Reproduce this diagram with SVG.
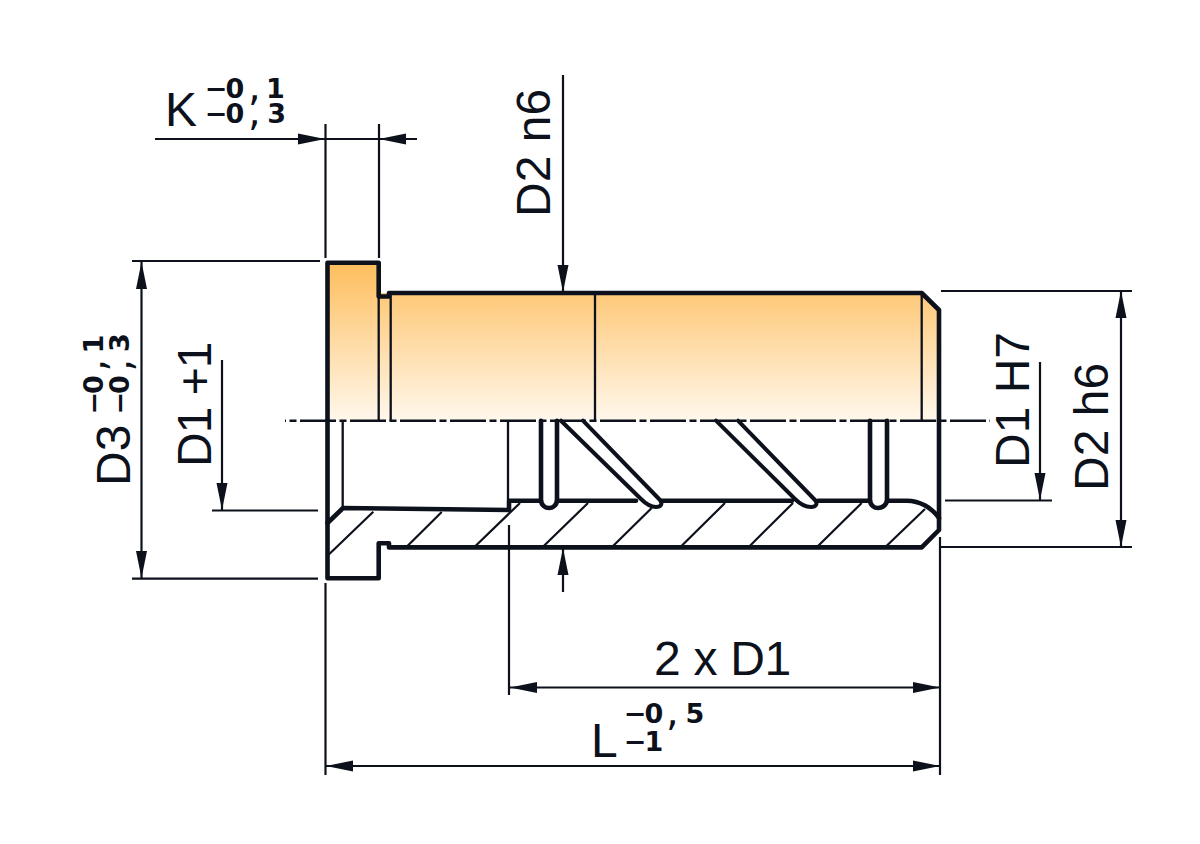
<svg xmlns="http://www.w3.org/2000/svg" width="1200" height="844" viewBox="0 0 1200 844">
<style>
.o{fill:none;stroke:#0c111c;stroke-width:4.6;stroke-linejoin:round;stroke-linecap:round}
.t{fill:none;stroke:#0c111c;stroke-width:2.3}
.h{fill:none;stroke:#0c111c;stroke-width:2.2}
.d{fill:none;stroke:#0c111c;stroke-width:2.2}
.a{fill:#0c111c}
.l{font-family:"Liberation Sans",Arial,sans-serif;font-size:48px;fill:#0c111c}
.s{font-family:"DejaVu Sans",sans-serif;font-size:27px;font-weight:bold;fill:#0c111c}
.c{font-size:40px;font-weight:normal}
</style>
<defs>
<linearGradient id="g" gradientUnits="userSpaceOnUse" x1="0" y1="262" x2="0" y2="421">
<stop offset="0" stop-color="#febd5c"/><stop offset="1" stop-color="#fff8ec"/>
</linearGradient>
<path id="ar" d="M0 0L-27 -5.5V5.500Z"/>
</defs>
<rect width="1200" height="844" fill="#fff"/>
<path id="fill" d="M327.5 262.7H378.7V293H921.7L939 310V420.7H327.5Z" fill="url(#g)"/>
<g id="thin" class="t">
<path d="M378.7 296V420.7M390.7 294V420.7M595 293V420.7M921.7 293V420.7M342.7 420.7V508M508 420.7V500"/>
</g>
<g id="hatch" class="h">
<path d="M373.3 511.700L328.3 555M441.7 512L407.7 545.7M520 503L475.7 545.7M588 503L544 545.7M651.7 508L613.3 545.7M725 503L681.7 545.7M793 503L750 545.7M861.7 503L818.3 545.7M925 509L886.7 545.7"/>
</g>
<g id="outline" class="o">
<path d="M327.5 420.7V262.7H378.7V296.5H389V293H921.7L939 310V420.7"/>
<path d="M327.5 420.7V578.3H378.7V543.3H389V547.4H921.7L939 530V420.7"/>
<path d="M327.5 523L343 508L509 510V500.7H541"/>
<path d="M541 420.7V500C541 505 545 508 549 508C553 508 557 505 557 500V420.7"/>
<path d="M557 500.7H636M661 500.7H792M818 500.7H870M887 500.7H906.7C920 500.7 932 508 939 518"/>
<path d="M870 420.7V500C870 505 874 508 878 508C882 508 887 505 887 500V420.7"/>
<path d="M561 420.7L641 499C646 504 650 507 656 507C661 507 663 504 660 500L583 420.7" stroke-width="4"/>
<path d="M716 420.7L795 499C800 504 805 507 811 507C816 507 818 504 815 500L738 420.7" stroke-width="4"/>
</g>
<g id="centerline"><path d="M285 420.7H990" fill="none" stroke="#0c111c" stroke-width="2.5" stroke-dasharray="36 3.5 7 3.5" stroke-dashoffset="35"/></g>
<g id="connectors" class="d">
<path d="M155 139H417M325.5 124V258M379 124V258"/>
<path d="M141.500 262V578M132 261H320M132 578.700H318"/>
<path d="M222 360V510M212 510.500H318"/>
<path d="M1040 362V500M945 500.500H1052"/>
<path d="M1121 291V547M941 291H1132M941 547H1132"/>
<path d="M563 75V292M563 548V592"/>
<path d="M509 525V695M510 687.500H940"/>
<path d="M325.500 583V775M940 537V775M326 766H940"/>
</g>
<g id="arrows" class="a">
<use href="#ar" transform="translate(325 139)"/>
<use href="#ar" transform="translate(379 139) rotate(180)"/>
<use href="#ar" transform="translate(141.500 262) rotate(-90)"/>
<use href="#ar" transform="translate(141.500 578) rotate(90)"/>
<use href="#ar" transform="translate(222 510) rotate(90)"/>
<use href="#ar" transform="translate(1040 500) rotate(90)"/>
<use href="#ar" transform="translate(1121 291) rotate(-90)"/>
<use href="#ar" transform="translate(1121 547) rotate(90)"/>
<use href="#ar" transform="translate(563 292) rotate(90)"/>
<use href="#ar" transform="translate(563 548) rotate(-90)"/>
<use href="#ar" transform="translate(510 687.500) rotate(180)"/>
<use href="#ar" transform="translate(940 687.500)"/>
<use href="#ar" transform="translate(326 766) rotate(180)"/>
<use href="#ar" transform="translate(940 766)"/>
</g>
<g id="labels">
<text class="l" x="165" y="126">K</text>
<text class="s" x="204.800 225.400" y="98">−0<tspan class="c" x="248" y="100">,</tspan><tspan x="266" y="98">1</tspan></text>
<text class="s" x="204.800 225.400" y="122.500">−0<tspan class="c" x="248" y="124.500">,</tspan><tspan x="267.300" y="122.500">3</tspan></text>
<text class="l" transform="translate(550 217) rotate(-90)">D2 n6</text>
<text class="l" transform="translate(130 486) rotate(-90)">D3</text>
<text class="s" x="0 20.600" transform="translate(102.500 414.600) rotate(-90)">−0<tspan class="c" x="43" y="2">,</tspan><tspan x="61.200" y="0">1</tspan></text>
<text class="s" x="0 20.600" transform="translate(129 414.600) rotate(-90)">−0<tspan class="c" x="43" y="2">,</tspan><tspan x="62.500" y="0">3</tspan></text>
<text class="l" style="letter-spacing:-1px" transform="translate(210.500 467) rotate(-90)">D1 +1</text>
<text class="l" transform="translate(1029 468) rotate(-90)">D1 H7</text>
<text class="l" transform="translate(1108 491) rotate(-90)">D2 h6</text>
<text class="l" style="letter-spacing:-.3px" x="654" y="675">2 x D1</text>
<text class="l" x="591" y="756.500">L</text>
<text class="s" x="623.800 644.500" y="723">−0<tspan class="c" x="666" y="725">,</tspan><tspan x="685.500" y="723">5</tspan></text>
<text class="s" x="623.800 644.500" y="750.500">−1</text>
</g>
</svg>
